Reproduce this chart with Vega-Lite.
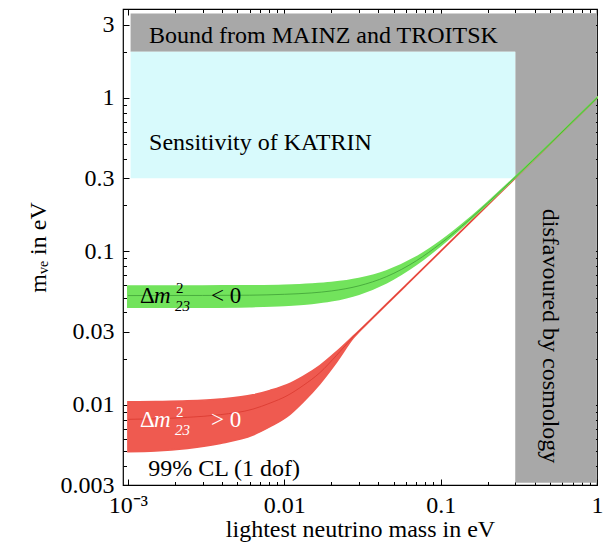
{
  "$schema": "https://vega.github.io/schema/vega-lite/v6.json",
  "width": 474,
  "height": 476,
  "autosize": {"type": "none"},
  "padding": {"left": 123, "top": 9, "right": 8, "bottom": 63},
  "background": "white",
  "config": {
    "font": "Liberation Serif",
    "view": {"stroke": "black", "strokeWidth": 1.2},
    "axis": {
      "grid": false, "domain": false,
      "labelFont": "Liberation Serif", "labelFontSize": 24, "labelColor": "black",
      "tickColor": "black", "tickWidth": 1,
      "titleFont": "Liberation Serif", "titleFontSize": 24, "titleFontWeight": "normal", "titleColor": "black",
      "labelFlush": false, "labelOverlap": false
    }
  },
  "datasets": {
    "regions": [
      {"region": "bound", "x0": 0.00104, "x1": 0.985, "y0": 2, "y1": 3.55},
      {"region": "cosmology", "x0": 0.3, "x1": 0.985, "y0": 0.0031, "y1": 3.55},
      {"region": "katrin", "x0": 0.00104, "x1": 0.3, "y0": 0.3, "y1": 2}
    ],
    "normal": [
      {"m": 0.001, "lo": 0.00495, "hi": 0.01045, "mid": 0.00804},
      {"m": 0.0015, "lo": 0.0050, "hi": 0.0105, "mid": 0.0081},
      {"m": 0.0024, "lo": 0.0052, "hi": 0.0106, "mid": 0.00828},
      {"m": 0.0039, "lo": 0.0056, "hi": 0.0109, "mid": 0.00862},
      {"m": 0.0063, "lo": 0.00635, "hi": 0.0116, "mid": 0.00937},
      {"m": 0.0081, "lo": 0.0072, "hi": 0.0124, "mid": 0.01025},
      {"m": 0.0104, "lo": 0.00836, "hi": 0.0135, "mid": 0.01145},
      {"m": 0.0132, "lo": 0.01045, "hi": 0.0153, "mid": 0.01335},
      {"m": 0.0169, "lo": 0.01374, "hi": 0.0180, "mid": 0.0162},
      {"m": 0.0216, "lo": 0.0190, "hi": 0.0222, "mid": 0.0210},
      {"m": 0.0276, "lo": 0.0272, "hi": 0.0280, "mid": 0.0277},
      {"m": 0.035, "lo": 0.0349, "hi": 0.0353, "mid": 0.0351},
      {"m": 0.045, "lo": 0.0449, "hi": 0.0453, "mid": 0.0451},
      {"m": 0.06, "lo": 0.0599, "hi": 0.0603, "mid": 0.0601},
      {"m": 0.1, "lo": 0.0999, "hi": 0.1003, "mid": 0.1001},
      {"m": 0.2, "lo": 0.1999, "hi": 0.2003, "mid": 0.2001},
      {"m": 0.3, "lo": 0.2999, "hi": 0.3002, "mid": 0.3},
      {"m": 1, "lo": 0.9995, "hi": 1.0005, "mid": 1}
    ],
    "inverted": [
      {"m": 0.001, "lo": 0.0433, "hi": 0.0593, "mid": 0.0515},
      {"m": 0.003, "lo": 0.0434, "hi": 0.0594, "mid": 0.0516},
      {"m": 0.006, "lo": 0.0437, "hi": 0.0596, "mid": 0.0518},
      {"m": 0.01, "lo": 0.0444, "hi": 0.0601, "mid": 0.0525},
      {"m": 0.015, "lo": 0.0458, "hi": 0.0612, "mid": 0.0536},
      {"m": 0.02, "lo": 0.0477, "hi": 0.0626, "mid": 0.0552},
      {"m": 0.03, "lo": 0.0527, "hi": 0.0665, "mid": 0.0596},
      {"m": 0.045, "lo": 0.0625, "hi": 0.0744, "mid": 0.0684},
      {"m": 0.07, "lo": 0.0823, "hi": 0.0917, "mid": 0.0869},
      {"m": 0.1, "lo": 0.1090, "hi": 0.1163, "mid": 0.1125},
      {"m": 0.15, "lo": 0.1561, "hi": 0.1613, "mid": 0.1586},
      {"m": 0.2, "lo": 0.2046, "hi": 0.2087, "mid": 0.2066},
      {"m": 0.3, "lo": 0.3031, "hi": 0.3058, "mid": 0.3044},
      {"m": 0.5, "lo": 0.5019, "hi": 0.5035, "mid": 0.5026},
      {"m": 1, "lo": 1.0009, "hi": 1.0018, "mid": 1.0013}
    ],
    "notes": [
      {"note": "Bound from MAINZ and TROITSK", "x": 0.001365, "y": 2.27},
      {"note": "Sensitivity of KATRIN", "x": 0.001365, "y": 0.4577},
      {"note": "99% CL (1 dof)", "x": 0.00135, "y": 0.00343}
    ],
    "sidenote": [
      {"note": "disfavoured by cosmology", "x": 0.5, "y": 0.02805}
    ],
    "hierarchy": [
      {"case": "inverted", "rel": "<  0", "x": 0.001195, "y": 0.0458},
      {"case": "normal", "rel": ">  0", "x": 0.001195, "y": 0.00719}
    ]
  },
  "layer": [
    {
      "data": {"name": "regions"},
      "mark": {"type": "rect"},
      "encoding": {
        "x": {"field": "x0", "type": "quantitative",
              "scale": {"type": "log", "domain": [0.00093, 1], "nice": false},
              "axis": {"orient": "bottom", "values": [0.001, 0.01, 0.1, 1], "tickSize": -6, "labelPadding": 14,
                       "format": "~g", "labelExpr": "datum.value < 0.005 ? '10⁻³' : datum.label",
                       "title": "lightest neutrino mass in eV", "titleX": 237, "titleY": 44, "titleBaseline": "middle"}},
        "x2": {"field": "x1"},
        "y": {"field": "y0", "type": "quantitative",
              "scale": {"type": "log", "domain": [0.003, 3.8], "nice": false},
              "axis": {"orient": "left", "values": [0.003, 0.01, 0.03, 0.1, 0.3, 1, 3], "tickSize": -6, "labelPadding": 15,
                       "format": "~g", "title": "mᵥₑ  in eV", "titleX": -85, "titleY": 238, "titleAngle": -90,
                       "titleBaseline": "middle", "titleAlign": "center"}},
        "y2": {"field": "y1"},
        "color": {"field": "region", "type": "nominal", "legend": null,
                  "scale": {"domain": ["bound", "cosmology", "katrin"], "range": ["#a8a8a8", "#a8a8a8", "#d8fafc"]}}
      }
    },
    {
      "data": {"name": "normal"},
      "mark": {"type": "area", "orient": "vertical", "color": "#ef5a50", "stroke": "#ef5a50", "strokeWidth": 1.6, "interpolate": "monotone"},
      "encoding": {
        "x": {"field": "m", "type": "quantitative",
              "axis": {"orient": "bottom", "values": [0.002, 0.003, 0.004, 0.005, 0.006, 0.007, 0.008, 0.009, 0.02, 0.03, 0.04, 0.05, 0.06, 0.07, 0.08, 0.09, 0.2, 0.3, 0.4, 0.5, 0.6, 0.7, 0.8, 0.9],
                       "tickSize": -3.5, "labels": false, "title": null}},
        "y": {"field": "lo", "type": "quantitative",
              "axis": {"orient": "left", "values": [0.004, 0.005, 0.006, 0.007, 0.008, 0.009, 0.02, 0.04, 0.05, 0.06, 0.07, 0.08, 0.09, 0.2, 0.4, 0.5, 0.6, 0.7, 0.8, 0.9, 2],
                       "tickSize": -3.5, "labels": false, "title": null}},
        "y2": {"field": "hi"}
      }
    },
    {
      "data": {"name": "normal"},
      "mark": {"type": "line", "color": "#d9392f", "strokeWidth": 0.8, "interpolate": "monotone"},
      "encoding": {
        "x": {"field": "m", "type": "quantitative", "axis": null},
        "y": {"field": "mid", "type": "quantitative", "axis": null}
      }
    },
    {
      "data": {"name": "inverted"},
      "mark": {"type": "area", "orient": "vertical", "color": "#72e35c", "stroke": "#72e35c", "strokeWidth": 1.8, "interpolate": "monotone"},
      "encoding": {
        "x": {"field": "m", "type": "quantitative",
              "axis": {"orient": "top", "values": [0.001, 0.01, 0.1, 1], "tickSize": -6, "labels": false, "title": null}},
        "y": {"field": "lo", "type": "quantitative",
              "axis": {"orient": "right", "values": [0.003, 0.01, 0.03, 0.1, 0.3, 1, 3], "tickSize": -6, "labels": false, "title": null}},
        "y2": {"field": "hi"}
      }
    },
    {
      "data": {"name": "inverted"},
      "mark": {"type": "line", "color": "#3f9f36", "strokeWidth": 0.8, "interpolate": "monotone"},
      "encoding": {
        "x": {"field": "m", "type": "quantitative",
              "axis": {"orient": "top", "values": [0.002, 0.003, 0.004, 0.005, 0.006, 0.007, 0.008, 0.009, 0.02, 0.03, 0.04, 0.05, 0.06, 0.07, 0.08, 0.09, 0.2, 0.3, 0.4, 0.5, 0.6, 0.7, 0.8, 0.9],
                       "tickSize": -3.5, "labels": false, "title": null}},
        "y": {"field": "mid", "type": "quantitative",
              "axis": {"orient": "right", "values": [0.004, 0.005, 0.006, 0.007, 0.008, 0.009, 0.02, 0.04, 0.05, 0.06, 0.07, 0.08, 0.09, 0.2, 0.4, 0.5, 0.6, 0.7, 0.8, 0.9, 2],
                       "tickSize": -3.5, "labels": false, "title": null}}
      }
    },
    {
      "data": {"name": "notes"},
      "mark": {"type": "text", "align": "left", "baseline": "alphabetic", "font": "Liberation Serif", "fontSize": 24, "color": "black"},
      "encoding": {
        "x": {"field": "x", "type": "quantitative", "axis": null},
        "y": {"field": "y", "type": "quantitative", "axis": null},
        "text": {"field": "note"}
      }
    },
    {
      "data": {"name": "sidenote"},
      "mark": {"type": "text", "align": "center", "baseline": "middle", "angle": 90, "font": "Liberation Serif", "fontSize": 24, "color": "black"},
      "encoding": {
        "x": {"field": "x", "type": "quantitative", "axis": null},
        "y": {"field": "y", "type": "quantitative", "axis": null},
        "text": {"field": "note"}
      }
    },
    {
      "data": {"name": "hierarchy"},
      "mark": {"type": "text", "align": "left", "baseline": "alphabetic", "font": "Liberation Serif", "fontSize": 23},
      "encoding": {
        "x": {"field": "x", "type": "quantitative", "axis": null},
        "y": {"field": "y", "type": "quantitative", "axis": null},
        "text": {"value": "Δ"},
        "color": {"condition": {"test": "datum.case === 'normal'", "value": "white"}, "value": "black"}
      }
    },
    {
      "data": {"name": "hierarchy"},
      "mark": {"type": "text", "align": "left", "baseline": "alphabetic", "font": "Liberation Serif", "fontSize": 23, "fontStyle": "italic", "dx": 14},
      "encoding": {
        "x": {"field": "x", "type": "quantitative", "axis": null},
        "y": {"field": "y", "type": "quantitative", "axis": null},
        "text": {"value": "m"},
        "color": {"condition": {"test": "datum.case === 'normal'", "value": "white"}, "value": "black"}
      }
    },
    {
      "data": {"name": "hierarchy"},
      "mark": {"type": "text", "align": "left", "baseline": "alphabetic", "font": "Liberation Serif", "fontSize": 15, "dx": 36, "dy": -10},
      "encoding": {
        "x": {"field": "x", "type": "quantitative", "axis": null},
        "y": {"field": "y", "type": "quantitative", "axis": null},
        "text": {"value": "2"},
        "color": {"condition": {"test": "datum.case === 'normal'", "value": "white"}, "value": "black"}
      }
    },
    {
      "data": {"name": "hierarchy"},
      "mark": {"type": "text", "align": "left", "baseline": "alphabetic", "font": "Liberation Serif", "fontSize": 15, "fontStyle": "italic", "dx": 35, "dy": 8},
      "encoding": {
        "x": {"field": "x", "type": "quantitative", "axis": null},
        "y": {"field": "y", "type": "quantitative", "axis": null},
        "text": {"value": "23"},
        "color": {"condition": {"test": "datum.case === 'normal'", "value": "white"}, "value": "black"}
      }
    },
    {
      "data": {"name": "hierarchy"},
      "mark": {"type": "text", "align": "left", "baseline": "alphabetic", "font": "Liberation Serif", "fontSize": 23, "dx": 71},
      "encoding": {
        "x": {"field": "x", "type": "quantitative", "axis": null},
        "y": {"field": "y", "type": "quantitative", "axis": null},
        "text": {"field": "rel"},
        "color": {"condition": {"test": "datum.case === 'normal'", "value": "white"}, "value": "black"}
      }
    }
  ],
  "resolve": {"axis": {"x": "independent", "y": "independent"}}
}
